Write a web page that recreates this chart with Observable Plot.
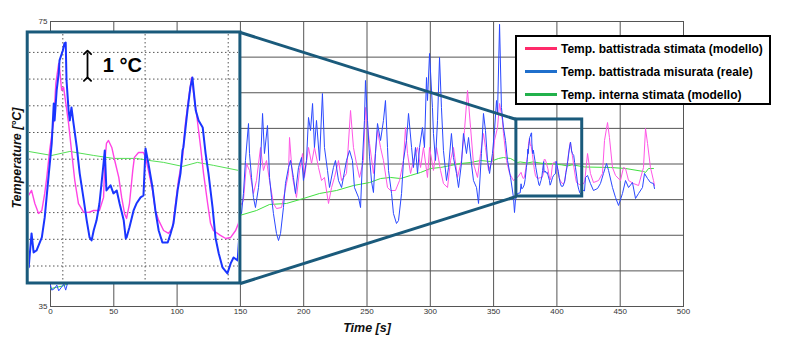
<!DOCTYPE html>
<html>
<head>
<meta charset="utf-8">
<script src="https://cdn.jsdelivr.net/npm/d3@7"></script>
<script src="https://cdn.jsdelivr.net/npm/@observablehq/plot@0.6"></script>
<style>
  html, body { margin: 0; padding: 0; background: #fff; }
  #wrap { position: relative; width: 800px; height: 354px; overflow: hidden; font-family: "Liberation Sans", Arial, sans-serif; }
  #wrap svg { display: block; }
  #insetBox { position: absolute; left: 29px; top: 34px; width: 209px; height: 247px; overflow: hidden; }
  #legend { position: absolute; left: 515px; top: 35px; width: 256px; height: 70px; box-sizing: border-box;
            border: 2px solid #000; background: #fff; }
  #legend .row { height: 23px; display: flex; align-items: center; padding-left: 8px;
                 font-weight: bold; font-size: 12px; color: #000; white-space: nowrap; }
  #legend .sw { display: inline-block; width: 32px; height: 3px; margin-right: 4px; }
</style>
</head>
<body>
<div id="wrap">
  <div id="main"></div>
  <div id="insetBox"></div>
  <div id="legend"></div>
</div>
<script>
// ---------- data: [time s, temperature °C] ----------
const measured = [
[0,38.0],[1,37.3],[3,37.5],[5,38.0],[6.5,37.2],[9.5,37.9],[10.5,38.2],[12,37.3],[13.5,38.3],
[17,40],[22,43],[28,41],[33,45],[40,42],[48,46],[55,43],[62,47],[70,44],[78,48],[86,45],[95,49],[104,46],[112,50],[120,46.5],[128,51],[136,47],[143,50],[148,49],
[149.3,48.47],[150.9,48.05],[152.4,50.86],[154.0,55.49],[156.4,60.68],[157.2,56.47],[158.8,53.11],[160.3,50.30],[161.9,48.89],[164.3,51.70],[165.9,55.07],[167.5,62.09],[169.0,56.47],[171.4,60.40],[173.0,53.11],[174.6,50.30],[176.1,48.05],[178.5,45.25],[180.1,44.26],[181.7,45.25],[184.0,48.89],[185.6,52.26],[188.0,54.51],[189.6,55.5],[191.9,53.11],[193.5,50.86],[195.9,54.51],[198.3,55.91],[199.8,52.68],[202.2,55.49],[203.8,61.53],[205.4,59.70],[207.0,63.49],[208.5,57.32],[210.1,61.11],[212.5,55.49],[214.8,64.89],[216.4,57.32],[218.8,54.09],[220.4,51.70],[223.5,54.51],[225.1,55.49],[227.5,52.68],[229.9,51.70],[231.4,53.11],[233.8,55.49],[236.2,56.89],[238.5,55.49],[240.1,51.70],[243.3,50.30],[244.9,48.89],[246.4,55.49],[248.0,61.11],[248.8,66.72],[250.4,61.11],[252.0,56.0],[253.6,52.5],[255.1,51.0],[256.7,56.47],[258.3,60.68],[260.7,58.30],[263.0,61.11],[264.6,63.91],[266.2,57.32],[267.0,54.09],[269.4,50.86],[270.9,48.05],[273.3,46.65],[274.9,47.07],[277.3,50.86],[278.8,55.49],[281.2,58.30],[282.8,62.09],[285.2,57.32],[286.7,54.51],[288.3,57.32],[289.9,53.67],[291.5,57.32],[293.8,60.12],[295.4,57.32],[297.0,67.14],[297.8,63.91],[299.4,70.51],[301.7,62.93],[302.5,59.28],[304.1,55.49],[305.7,61.11],[307.3,69.95],[308.8,62.93],[310.4,56.89],[312.8,52.68],[314.4,54.51],[316.7,59.28],[318.3,55.91],[320.7,53.67],[322.3,51.70],[324.6,55.07],[326.2,59.28],[328.6,56.47],[330.2,58.72],[332.5,55.07],[334.1,52.68],[336.5,51.70],[338.1,49.46],[340.4,56.47],[342.0,62.09],[343.6,59.70],[345.2,55.49],[346.8,53.67],[349.1,56.47],[350.7,59.70],[352.3,63.91],[353.1,62.09],[354.7,74.6],[356.2,62.93],[357.8,60.12],[359.4,58.30],[361.0,55.49],[363.4,53.11],[365.7,50.30],[366.5,48.19],[367.3,50.0],[368.9,50.86],
[371.0,50.95],[371.7,52.22],[372.2,51.51],[372.9,51.58],[374.2,52.07],[374.9,52.82],[375.9,54.47],[376.6,55.59],[377.1,57.09],[377.3,56.45],[377.8,57.58],[378.3,58.21],[378.5,58.70],[379.3,59.07],[379.7,59.34],[380.0,59.37],[380.2,57.95],[380.7,56.83],[381.0,56.45],[381.4,56.94],[381.9,56.34],[382.7,55.44],[383.4,54.47],[384.4,53.46],[385.1,52.71],[385.8,52.07],[386.3,51.96],[386.8,52.33],[387.5,52.71],[388.2,53.34],[388.7,54.09],[389.2,54.84],[389.5,55.33],[389.9,53.83],[390.9,54.02],[391.6,53.72],[392.4,53.83],[393.1,53.34],[394.1,52.71],[394.6,52.03],[394.8,52.07],[395.5,52.45],[396.5,53.08],[397.2,53.34],[398.2,53.57],[398.9,53.64],[399.4,55.40],[400.1,54.84],[401.1,53.94],[401.8,53.08],[402.6,52.33],[403.5,51.88],[404.8,51.88],[405.5,52.22],[406.2,52.60],[407.2,53.83],[407.9,54.47],[408.4,55.33],[408.6,55.44],[409.6,56.83],[410.3,57.69],[410.8,58.06],[411.1,57.58],[411.6,56.83],[412.3,56.45],[413.3,56.19],[414.0,55.22],[414.7,54.47],[415.7,53.19],[416.4,52.07],[417.2,51.47],[418.1,50.95],[419.3,50.72],[420.1,51.10],[420.8,51.32],[421.8,51.21],
[422.6,53.11],[424.2,53.39],[426.5,52.26],[428.9,51.28],[432.1,51.56],[434.4,52.26],[436.8,53.67],[439.2,55.07],[440.8,54.09],[443.9,51.70],[446.3,50.30],[448.7,49.18],[451.8,50.86],[454.2,52.68],[456.6,51.70],[459.7,52.40],[462.1,50.16],[464.5,50.86],[467.6,51.70],[469.2,53.67],[471.6,52.96],[473.9,52.40],[476.3,52.26],[477.1,51.56]
];
const model = [
[0,40],[10,42],[20,44],[30,43],[40,46],[50,44],[60,47],[70,45],[80,48],[90,46],[100,49],[110,47],[120,50],[130,47.5],[140,49],[147,48],
[149.3,48.89],[152.4,49.88],[154.8,55.07],[157.2,54.09],[160.3,50.86],[162.7,52.68],[165.9,57.32],[168.2,54.09],[170.6,55.49],[173.0,52.68],[176.1,49.46],[178.5,48.75],[182.5,48.89],[184.8,50.86],[188.0,53.67],[188.8,58.72],[191.2,53.11],[194.3,50.30],[196.7,54.09],[199.1,56.47],[200.6,53.11],[203.8,57.32],[206.2,55.07],[208.5,57.32],[211.7,54.51],[214.1,52.68],[216.4,53.11],[219.6,49.46],[222.0,51.70],[224.3,53.11],[227.5,55.49],[229.9,52.68],[233.8,53.67],[237.0,62.51],[239.3,57.32],[241.7,55.07],[244.1,53.11],[247.2,55.49],[248.8,62.93],[252.0,57.88],[255.1,53.67],[258.3,59.70],[260.7,57.32],[263.0,55.49],[266.2,51.70],[268.6,51.28],[272.5,51.28],[275.7,52.68],[278.8,55.49],[280.4,60.12],[282.0,56.47],[284.4,53.67],[286.7,55.49],[289.9,57.32],[292.3,54.51],[294.6,57.32],[297.8,53.11],[299.4,57.32],[302.5,54.09],[304.9,57.32],[308.1,54.09],[310.4,52.26],[313.6,51.70],[316.0,55.49],[318.3,57.32],[321.5,53.11],[324.6,55.49],[327.0,59.70],[329.4,65.32],[331.8,60.12],[334.1,55.07],[337.3,53.11],[339.7,56.47],[342.0,59.28],[343.6,57.32],[346.0,54.09],[349.1,55.49],[350.7,58.30],[353.1,60.12],[354.7,63.49],[357.0,61.11],[357.8,59.28],[360.2,55.49],[362.6,53.67],[365.7,52.68],[368.9,53.11],
[371.7,53.83],[372.5,53.34],[373.4,52.97],[374.2,53.08],[374.9,53.72],[375.4,54.32],[376.1,55.33],[377.1,56.45],[377.6,57.84],[378.3,58.59],[378.5,58.44],[379.0,57.58],[379.5,57.69],[379.7,57.46],[380.7,56.34],[381.4,55.33],[382.2,54.21],[383.1,53.34],[384.4,53.01],[385.6,53.01],[386.8,53.08],[388.2,53.08],[389.2,53.57],[389.5,54.84],[389.9,55.59],[390.4,55.70],[391.2,55.44],[391.9,54.96],[392.9,54.32],[393.6,53.57],[394.3,52.97],[394.8,52.78],[395.5,53.34],[396.3,54.58],[396.7,55.07],[397.7,55.25],[398.9,55.25],[399.4,55.07],[400.1,54.58],[401.1,53.83],[401.8,53.08],[402.6,52.71],[403.8,52.33],[405.0,52.22],[406.0,52.45],[406.7,53.34],[407.4,54.21],[408.4,55.07],[409.1,56.34],[409.9,57.31],[410.6,58.06],[411.1,57.46],[412.0,56.45],[412.8,55.44],[413.5,54.47],[414.5,53.34],[415.2,52.60],[415.9,52.33],[417.6,52.15],[418.9,52.03],[420.1,52.07],[421.3,52.33],[422.0,52.60],
[424.2,56.47],[426.5,53.67],[428.9,52.40],[432.9,52.68],[436.0,53.67],[437.6,58.30],[440.0,60.82],[441.5,58.72],[443.9,54.51],[446.3,53.39],[450.2,52.68],[452.6,54.51],[454.2,54.37],[456.6,52.68],[460.5,52.26],[464.5,51.98],[468.4,54.51],[470.0,59.98],[471.6,57.88],[473.9,54.51],[476.3,52.68],[477.1,51.98]
];
const internal = [
[0,37.5],[5,37.7],[10,37.9],[15,38.3],[30,39.5],[50,41],[70,42.5],[90,44],[110,45.5],[130,46.8],[149.3,47.77],[162.7,48.47],[173.0,49.32],[186.4,49.46],[199.8,50.16],[212.5,50.86],[225.9,51.28],[239.3,51.98],[252.0,52.40],[260.7,52.96],[268.6,53.11],[276.5,52.96],[284.4,53.39],[292.3,53.81],[300.2,54.37],[308.1,54.51],[316.0,54.79],[323.9,55.07],[331.8,55.21],[339.7,55.49],[347.6,55.35],[353.9,55.77],[357.8,55.91],[363.4,55.77],[368.9,55.21],
[371.0,55.29],[376.6,55.14],[381.0,55.29],[386.8,55.14],[391.6,55.03],[397.2,55.03],[399.9,54.96],[403.8,54.88],[408.4,54.73],[412.0,54.88],[415.9,54.77],[422.0,54.58],
[442.3,54.51],[454.2,54.37],[468.4,53.95],[470.0,53.81],[472.4,54.37],[476.3,54.37]
];

// ticks
const xTicks = [0,50,100,150,200,250,300,350,400,450,500];
const yTicks = [35,40,45,50,55,60,65,70,75];
const insetGridTime = [379.3, 399.3, 419.5];
const insetGridTemp = [51,52,53,54,55,56,57,58,59];

// zoom annotation (data ranges)
const zoomWindow = [{t1: 368, t2: 420, T1: 50.44, T2: 61.25}];
const insetPanel = [{t1: -18, t2: 150, T1: 38.23, T2: 73.46}];
const connectors = [
  {t1: 150, T1: 73.46, t2: 368, T2: 61.25},
  {t1: 150, T1: 38.23, t2: 368, T2: 50.44}
];
const insetDomainTime = [371.2, 422];
const insetDomainTemp = [50.42, 59.67];
const scaleArrow = [{t: 385.3, T1: 58, T2: 59}];
const scaleLabel = [{t: 389.0, T: 58.5, text: "1 °C"}];

// legend
const legendLabels = ["Temp. battistrada stimata (modello)", "Temp. battistrada misurata (reale)", "Temp. interna stimata (modello)"];
const legendColors = ["#ff2a6a", "#1f6fcc", "#22b14c"];

const FONT = "Liberation Sans, Arial, sans-serif";
const FRAME = "#1a5a7b";
const T = d => d[0], V = d => d[1];

const main = Plot.plot({
  width: 800, height: 354,
  marginLeft: 50, marginRight: 117, marginTop: 21, marginBottom: 48,
  x: {domain: [0, 500]},
  y: {domain: [35, 75]},
  style: {fontFamily: FONT, background: "white"},
  marks: [
    Plot.gridX(xTicks, {stroke: "#555", strokeOpacity: 1, strokeWidth: 1}),
    Plot.gridY(yTicks, {stroke: "#555", strokeOpacity: 1, strokeWidth: 1}),
    Plot.frame({stroke: "#555"}),
    Plot.axisX(xTicks, {tickSize: 0, tickPadding: 2, fontSize: 8, color: "#333", label: null}),
    Plot.axisY(yTicks, {tickSize: 0, tickPadding: 3, fontSize: 8, color: "#333", label: null}),
    Plot.line(internal, {x: T, y: V, stroke: "#3fe03f", strokeWidth: 1}),
    Plot.line(model, {x: T, y: V, stroke: "#ff55e6", strokeWidth: 1}),
    Plot.line(measured, {x: T, y: V, stroke: "#2a48ff", strokeWidth: 1}),
    Plot.rect(insetPanel, {x1: "t1", x2: "t2", y1: "T1", y2: "T2", fill: "white", stroke: FRAME, strokeWidth: 3}),
    Plot.rect(zoomWindow, {x1: "t1", x2: "t2", y1: "T1", y2: "T2", fill: "none", stroke: FRAME, strokeWidth: 3}),
    Plot.link(connectors, {x1: "t1", y1: "T1", x2: "t2", y2: "T2", stroke: FRAME, strokeWidth: 3}),
    Plot.text(["Time [s]"], {frameAnchor: "bottom", lineAnchor: "middle", textAnchor: "middle", dy: 21, fontSize: 12.5, fontWeight: "bold", fontStyle: "italic", fill: "#111"}),
    Plot.text(["Temperature [°C]"], {frameAnchor: "left", lineAnchor: "middle", textAnchor: "middle", dx: -34, dy: -6, rotate: -90, fontSize: 12.5, fontWeight: "bold", fontStyle: "italic", fill: "#111"})
  ]
});
document.getElementById("main").appendChild(main);

const inset = Plot.plot({
  width: 209, height: 247, margin: 0,
  x: {domain: insetDomainTime, axis: null},
  y: {domain: insetDomainTemp, axis: null},
  style: {fontFamily: FONT, background: "transparent"},
  marks: [
    Plot.ruleX(insetGridTime, {stroke: "#555", strokeDasharray: "1.5,2.5"}),
    Plot.ruleY(insetGridTemp, {stroke: "#555", strokeDasharray: "1.5,2.5"}),
    Plot.line(internal, {x: T, y: V, stroke: "#55e055", strokeWidth: 1, clip: true}),
    Plot.line(model, {x: T, y: V, stroke: "#ff44e4", strokeWidth: 1.4, clip: true}),
    Plot.line(measured, {x: T, y: V, stroke: "#1a35ff", strokeWidth: 2, clip: true}),
    Plot.link(scaleArrow, {x1: "t", x2: "t", y1: "T1", y2: "T2", stroke: "#000", strokeWidth: 1.8, markerStart: "arrow", markerEnd: "arrow"}),
    Plot.text(scaleLabel, {x: "t", y: "T", text: "text", textAnchor: "start", fontSize: 20, fontWeight: "bold", fill: "#000"})
  ]
});
document.getElementById("insetBox").appendChild(inset);

const legend = d3.select("#legend");
legendLabels.forEach((label, i) => {
  const row = legend.append("div").attr("class", "row");
  row.append("span").attr("class", "sw").style("background", legendColors[i]);
  row.append("span").text(label);
});
</script>
</body>
</html>
